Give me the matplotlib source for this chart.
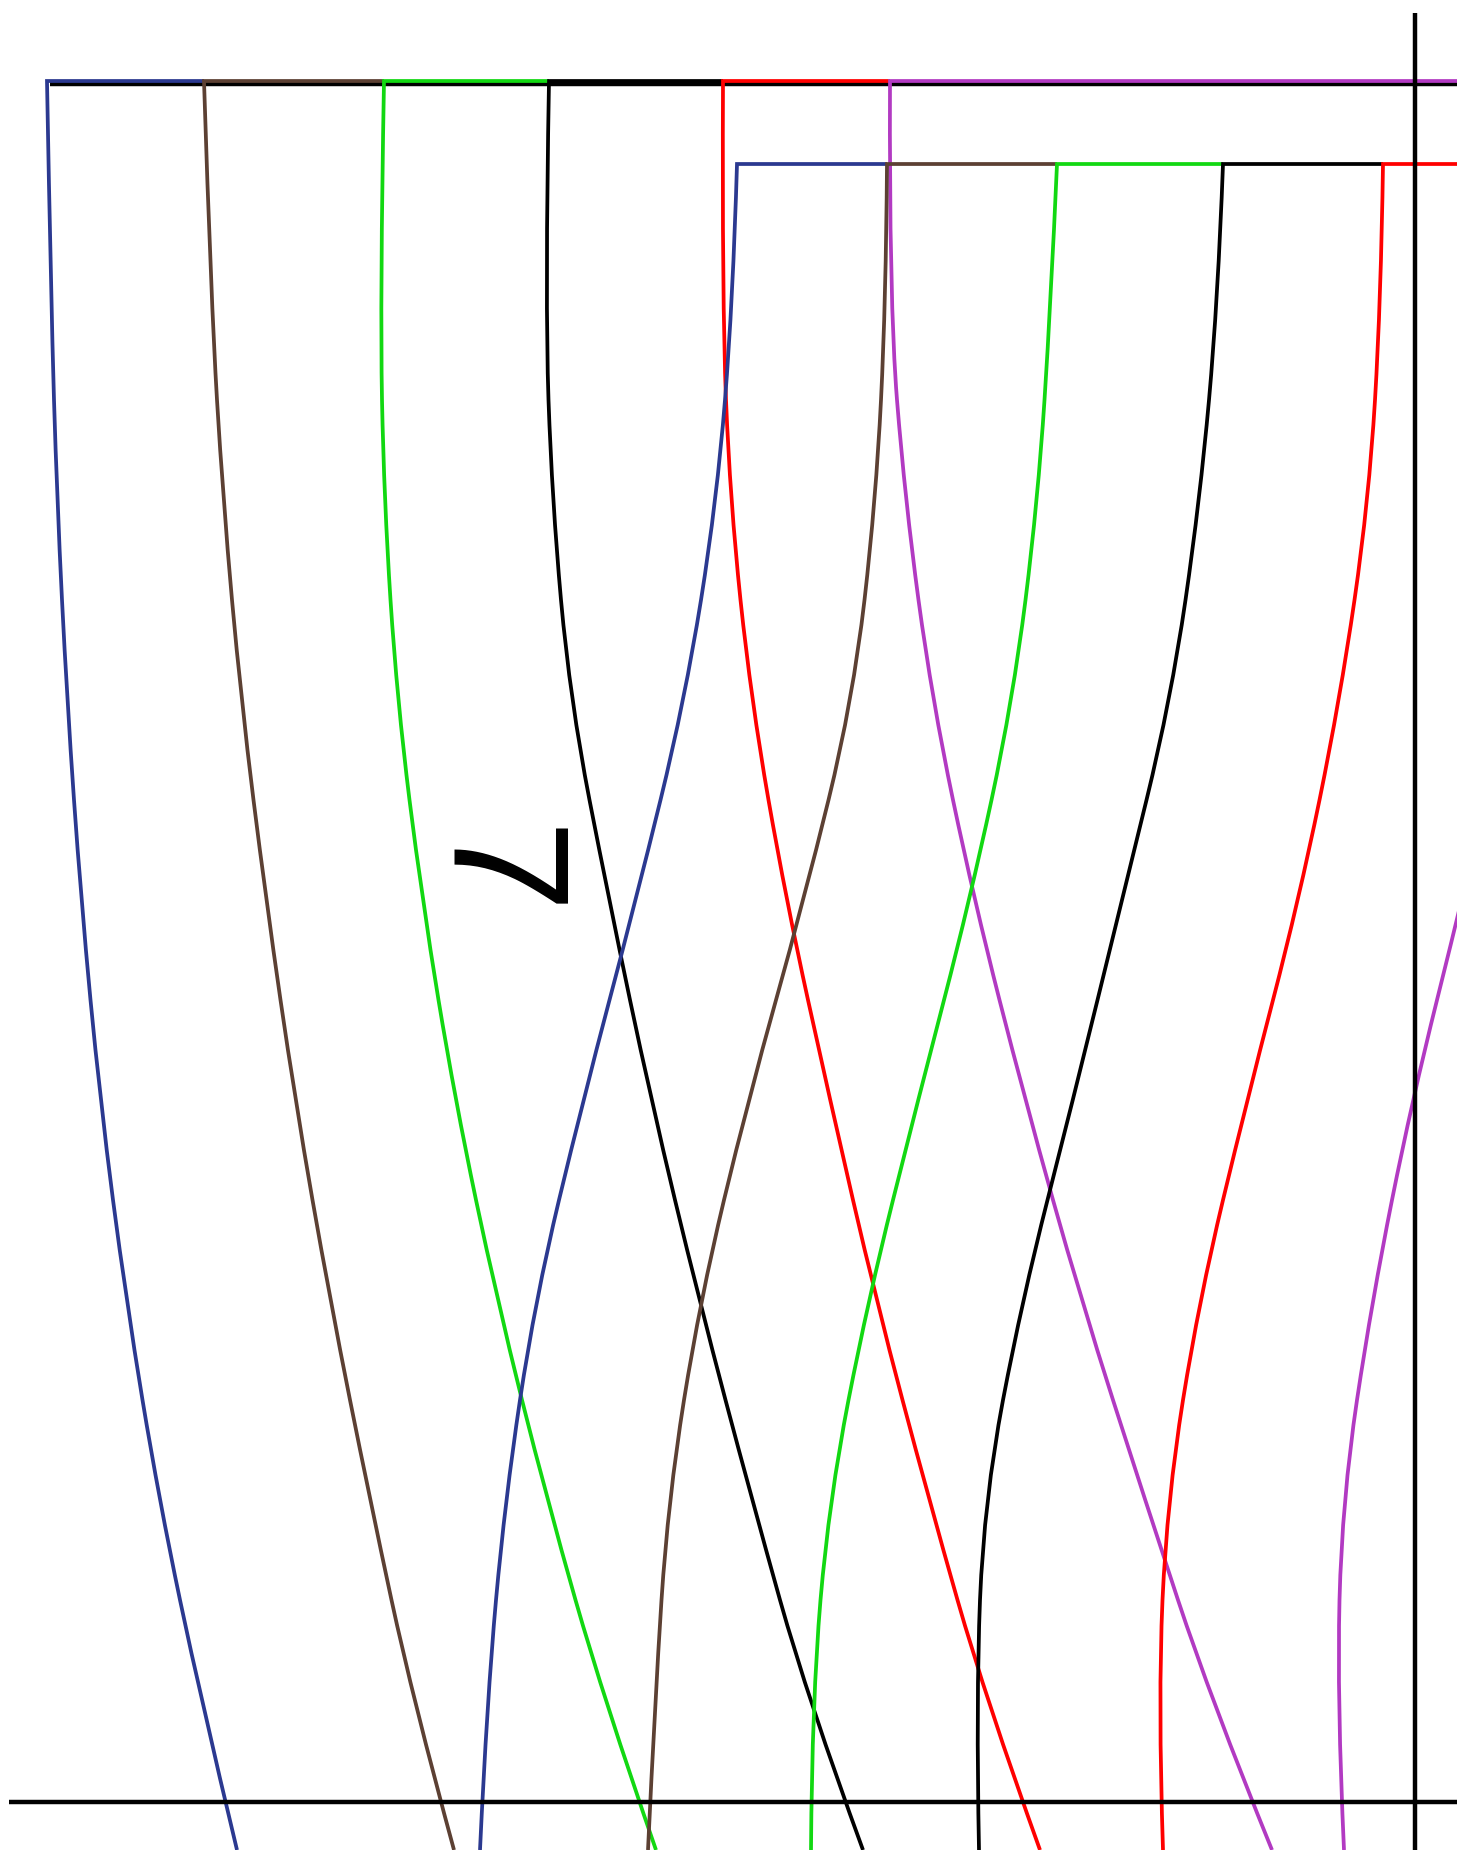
import matplotlib
matplotlib.use("Agg")
import matplotlib.pyplot as plt
from matplotlib.path import Path
from matplotlib.patches import PathPatch

W, H = 1457, 1850

# colours of the six curve families, left to right
colors = ["#2b3990", "#5c4033", "#12d812", "#000000", "#ff0000", "#b23ac2"]

# depths (pixel rows) at which the curves were read
rows1 = [81, 300, 500, 700, 900, 1100, 1300, 1500, 1700, 1850]
rows2 = [164, 300, 500, 700, 900, 1100, 1300, 1500, 1700, 1850]
rows_p2 = [700, 900, 1100, 1300, 1500, 1700, 1850]

# horizontal positions read at those depths, first row (hangs from the top rule)
blue1 = [47, 51, 57, 67, 81, 100, 126, 159, 201, 237]
brown1 = [204, 211, 223, 241, 266, 295, 330, 370, 413, 454]
green1 = [384, 380, 384, 397, 422, 455, 497, 547, 604, 656]
black1 = [549, 545, 552, 570, 609, 651, 699, 752, 808, 863]
red1 = [723, 722, 730, 751, 786, 830, 876, 929, 986, 1040]
purple1 = [890, 889, 905, 932, 974, 1025, 1081, 1145, 1211, 1272]

# second row (hangs from the lower step)
blue2 = [737, 733, 717, 685, 636, 583, 535, 505, 487, 480]
brown2 = [887, 886, 876, 853, 804, 748, 700, 668, 655, 648]
green2 = [1057, 1051, 1038, 1013, 970, 918, 868, 829, 812, 811]
black2 = [1223, 1218, 1200, 1171, 1122, 1073, 1022, 984, 976, 979]
red2 = [1383, 1381, 1369, 1340, 1299, 1247, 1199, 1167, 1158, 1163]
purple2 = [1510, 1462, 1412, 1372, 1342, 1337, 1344]

row1 = [blue1, brown1, green1, black1, red1, purple1]
row2 = [blue2, brown2, green2, black2, red2, purple2]

# black rules
top_rule_y = 83.5
top_rule_x0 = 50
bottom_rule_y = 1802
bottom_rule_x0 = 9
right_rule_x = 1415
right_rule_y0 = 13

label = "7"
label_pos = (489, 873)

fig = plt.figure(figsize=(W / 100, H / 100), dpi=100)
ax = fig.add_axes([0, 0, 1, 1])
ax.set_xlim(0, W)
ax.set_ylim(H, 0)
ax.axis("off")

ax.plot([top_rule_x0, W + 5], [top_rule_y, top_rule_y], color="black", lw=3.2,
        solid_capstyle="butt", zorder=1)


def curve_path(xs, ys, step_from=None):
    # quadratic b-spline: read points act as control points, ends are kept
    pts = list(zip(xs, ys))
    verts, codes = [], []
    if step_from is not None:
        verts += [(step_from, ys[0]), pts[0]]
        codes += [Path.MOVETO, Path.LINETO]
    else:
        verts.append(pts[0])
        codes.append(Path.MOVETO)
    n = len(pts)
    for i in range(1, n - 1):
        if i < n - 2:
            end = ((pts[i][0] + pts[i + 1][0]) / 2, (pts[i][1] + pts[i + 1][1]) / 2)
        else:
            end = pts[n - 1]
        verts += [pts[i], end]
        codes += [Path.CURVE3, Path.CURVE3]
    return Path(verts, codes)


def draw_row(curves, rows, last_rows=None):
    for i, xs in enumerate(curves):
        ys = rows if len(xs) == len(rows) else last_rows
        step = None
        if ys[0] < 300:
            # horizontal step runs to where the next curve starts
            nxt = curves[i + 1] if i + 1 < len(curves) else None
            if nxt is not None and len(nxt) == len(rows):
                step = nxt[0]
            else:
                step = W + 5
        ax.add_patch(PathPatch(curve_path(xs, ys, step), fill=False, edgecolor=colors[i],
                               lw=2.7, joinstyle="miter", zorder=2))


draw_row(row1, rows1)
draw_row(row2, rows2, rows_p2)

ax.plot([bottom_rule_x0, W + 5], [bottom_rule_y, bottom_rule_y], color="black", lw=3.2,
        solid_capstyle="butt", zorder=3)
ax.plot([right_rule_x, right_rule_x], [right_rule_y0, H + 5], color="black", lw=3.2,
        solid_capstyle="butt", zorder=3)

ax.text(label_pos[0], label_pos[1], label, rotation=270, ha="center", va="center",
        fontsize=119, family="Liberation Sans", color="black", zorder=4)

fig.savefig("out.png", dpi=100)
